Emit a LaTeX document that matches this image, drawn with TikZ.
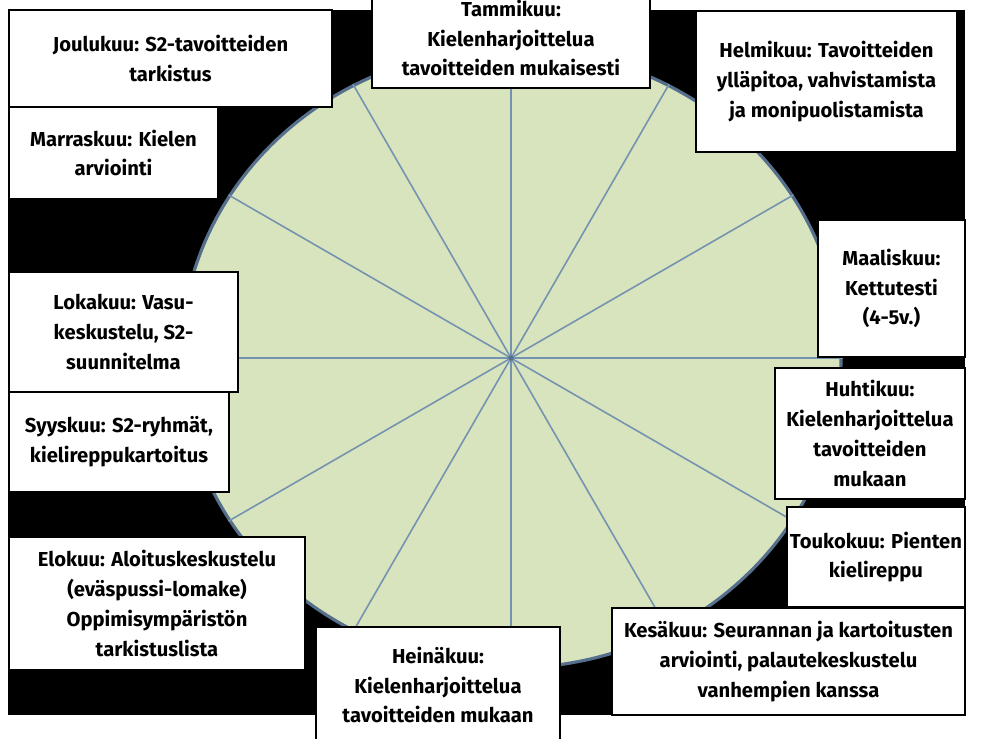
\documentclass[tikz,border=0pt]{standalone}
\usepackage{fontspec}
\setmainfont{Fira Sans}
\usetikzlibrary{shapes.geometric}
\definecolor{vihrea}{HTML}{D7E4BD}
\definecolor{reuna}{HTML}{566F8C}
\definecolor{pinnavari}{HTML}{7493B0}
\newcommand{\yk}{0.02cm}

\begin{document}
\begin{tikzpicture}[x=0.02cm,y=-0.02cm,
	kuu/.style={draw=black,line width=1pt,fill=white,align=center,inner sep=0pt,
		font=\fontsize{11.5}{17}\selectfont\bfseries},
	pinna/.style={draw=pinnavari,line width=0.9pt}]

\useasboundingbox (0,0) rectangle (983,738);
\fill[black] (8,10) rectangle (965,715);

% vuosikello
\node[ellipse,draw=reuna,line width=1.8pt,fill=vihrea,inner sep=0pt,
	minimum width=660*\yk,minimum height=620*\yk] (kello) at (511,358) {};
\foreach \a in {0,30,...,330}{
	\draw[pinna] (kello.center) -- (kello.\a);
}
\fill[reuna] (kello.center) circle (1.5pt);

% kuukaudet
\node[kuu,minimum width=278*\yk,minimum height=100*\yk] (tammi) at (511,38) {Tammikuu:\\Kielenharjoittelua\\tavoitteiden mukaisesti};
\node[kuu,minimum width=261*\yk,minimum height=141*\yk] (helmi) at (826.5,81.5) {Helmikuu: Tavoitteiden\\ylläpitoa, vahvistamista\\ja monipuolistamista};
\node[kuu,minimum width=147*\yk,minimum height=137*\yk] (maalis) at (891.5,288.5) {Maaliskuu:\\Kettutesti\\(4-5v.)};
\node[kuu,minimum width=190*\yk,minimum height=131*\yk] (huhti) at (870,433.5) {Huhtikuu:\\Kielenharjoittelua\\tavoitteiden\\mukaan};
\node[kuu,minimum width=178*\yk,minimum height=100*\yk] (touko) at (876,557) {Toukokuu: Pienten\\kielireppu};
\node[kuu,minimum width=353*\yk,minimum height=107*\yk] (kesa) at (788.5,661.5) {Kesäkuu: Seurannan ja kartoitusten\\arviointi, palautekeskustelu\\vanhempien kanssa};
\node[kuu,minimum width=244*\yk,minimum height=116*\yk] (heina) at (438,685) {Heinäkuu:\\Kielenharjoittelua\\tavoitteiden mukaan};
\node[kuu,minimum width=296*\yk,minimum height=133*\yk] (elo) at (157,603.5) {Elokuu: Aloituskeskustelu\\(eväspussi-lomake)\\Oppimisympäristön\\tarkistuslista};
\node[kuu,minimum width=220*\yk,minimum height=100*\yk] (syys) at (119,442) {Syyskuu: S2-ryhmät,\\kielireppukartoitus};
\node[kuu,minimum width=229*\yk,minimum height=120*\yk] (loka) at (123.5,332) {Lokakuu: Vasu-\\keskustelu, S2-\\suunnitelma};
\node[kuu,minimum width=209*\yk,minimum height=92*\yk] (marras) at (113.5,153) {Marraskuu: Kielen\\arviointi};
\node[kuu,minimum width=323*\yk,minimum height=97*\yk] (joulu) at (170.5,58.5) {Joulukuu: S2-tavoitteiden\\tarkistus};

\end{tikzpicture}
\end{document}
